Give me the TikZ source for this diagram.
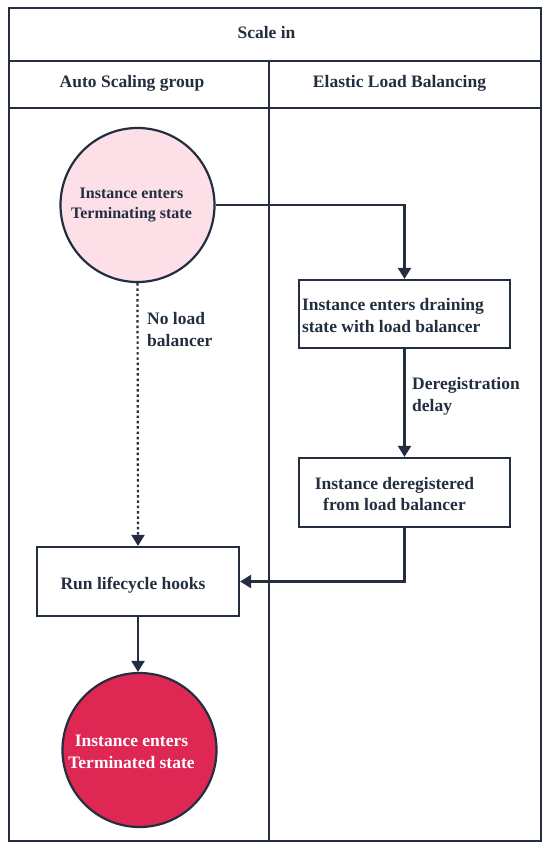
\documentclass[tikz,border=0pt]{standalone}
\usepackage{fontspec}
\setmainfont{Liberation Serif}
\usetikzlibrary{arrows.meta,positioning,calc}
\definecolor{ink}{HTML}{232F3E}
\definecolor{pinkfill}{HTML}{FDDFE7}
\definecolor{redfill}{HTML}{DF2753}
\tikzset{
  lane/.style={draw=ink,line width=2.5pt},
  hdr/.style={font=\fontsize{17.5}{20}\selectfont\bfseries,text=ink},
  lbl/.style={font=\fontsize{17.5}{22}\selectfont\bfseries,text=ink,align=left,inner sep=0pt},
  stepbox/.style={draw=ink,line width=2.2pt,fill=white,inner sep=0pt},
  steptext/.style={font=\fontsize{17.5}{21.5}\selectfont\bfseries,text=ink,inner sep=0pt},
  statecirc/.style={circle,draw=ink,line width=2.2pt,inner sep=0pt,minimum size=154pt},
  circtext/.style={font=\fontsize{16}{20.5}\selectfont\bfseries,align=center,inner sep=0pt},
  bigcirctext/.style={font=\fontsize{17.5}{22}\selectfont\bfseries,align=center,inner sep=0pt},
  flow/.style={draw=ink,line width=2.2pt,-{Triangle[width=13pt,length=11pt]}},
}
\begin{document}
\begin{tikzpicture}[x=1pt,y=-1pt]
\useasboundingbox (0,0) rectangle (550,850);
\fill[white] (0,0) rectangle (550,850);
% swimlane frame
\draw[lane] (9,8) rectangle (541,841);
\draw[lane] (9,61) -- (541,61);
\draw[lane] (9,108) -- (541,108);
\draw[lane] (269,61) -- (269,841);
\node[hdr] (title) at (266.5,33) {Scale in};
\node[hdr] (asg) at (132,83) {Auto Scaling group};
\node[hdr] (elb) at (399.5,83) {Elastic Load Balancing};
% nodes
\node[statecirc,fill=pinkfill] (term) at (137.5,205) {};
\node[circtext,text=ink] (termtxt) at ($(term.center)+(-6,0)$) {Instance enters\\Terminating state};
\node[stepbox,minimum width=211pt,minimum height=68pt] (drain) at (404.5,314) {};
\node[steptext,align=left,anchor=west] (draintxt) at ($(drain.west)+(4,1.5)$) {Instance enters draining\\state with load balancer};
\node[stepbox,minimum width=211pt,minimum height=69pt] (dereg) at (404.5,492.5) {};
\node[steptext,align=center] (deregtxt) at ($(dereg.center)+(-10,1.5)$) {Instance deregistered\\from load balancer};
\node[stepbox,minimum width=202pt,minimum height=69pt] (hooks) at (138,581.5) {};
\node[steptext] (hookstxt) at ($(hooks.center)+(-5,3.5)$) {Run lifecycle hooks};
\node[statecirc,fill=redfill] (termd) at (139.5,750) {};
\node[bigcirctext,text=white] (termdtxt) at ($(termd.center)+(-8,1.5)$) {Instance enters\\Terminated state};
% labels
\node[lbl,anchor=north west] (nolb) at (147,312) {No load\\balancer};
\node[lbl,anchor=north west] (delay) at (412,377) {Deregistration\\delay};
% connectors
\draw[flow] (term.east) -- (drain.north |- term.east) -- (drain.north);
\draw[flow] (drain.south) -- (dereg.north);
\draw[flow] (dereg.south) -- (dereg.south |- hooks.east) -- (hooks.east);
\draw[flow,dash pattern=on 2.5pt off 2.8pt] (term.south) -- (hooks.north);
\draw[flow] (hooks.south) -- (hooks.south |- termd.north);
\end{tikzpicture}
\end{document}
